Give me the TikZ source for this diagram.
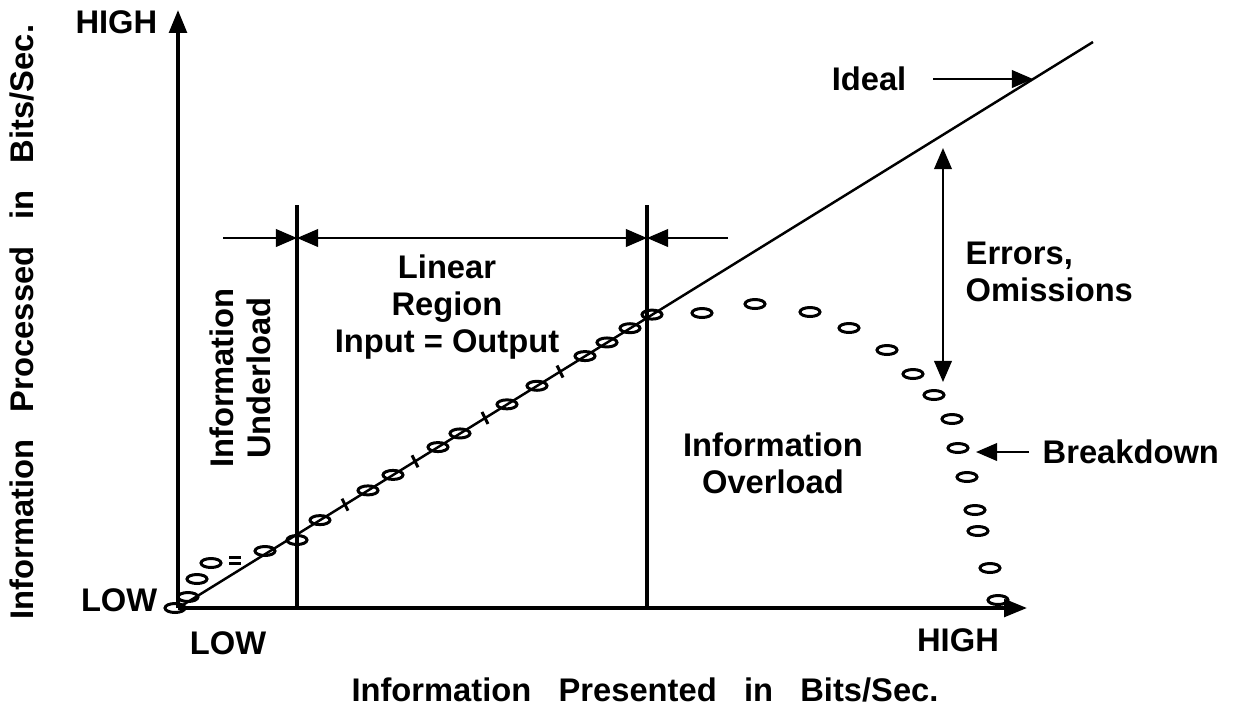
\documentclass[tikz,border=0pt]{standalone}
\usepackage{fontspec}
\setmainfont{Liberation Sans}
\newfontfamily\widesans{Liberation Sans}[WordSpace=3]
\usetikzlibrary{arrows.meta}

\tikzset{
  lbl/.style={font=\bfseries\fontsize{9.3}{10.5}\selectfont, inner sep=0pt, align=center},
  axis/.style={line width=1pt, -{Triangle[length=6.5pt,width=5pt]}},
  divider/.style={line width=1pt},
  ideal/.style={line width=0.7pt},
  pointer/.style={line width=0.6pt, -{Triangle[length=6pt,width=5pt]}},
  both/.style={line width=0.6pt, {Triangle[length=6pt,width=5pt]}-{Triangle[length=6pt,width=5pt]}},
  sample/.style={line width=0.85pt},
}

\begin{document}
\begin{tikzpicture}[x=0.01cm,y=-0.01cm]
  \useasboundingbox (0,0) rectangle (1250,714);

  % axes
  \coordinate (o) at (178,608);
  \coordinate (ytip) at (178,10);
  \coordinate (xtip) at (1027,608);
  \draw[axis] (o) -- (ytip);
  \draw[axis] (o) -- (xtip);

  % ideal line
  \coordinate (idealend) at (1093,42);
  \draw[ideal] (o) -- (idealend);

  % region dividers
  \coordinate (a0) at (297,608);
  \coordinate (a1) at (297,205);
  \coordinate (b0) at (647,608);
  \coordinate (b1) at (647,205);
  \draw[divider] (a0) -- (a1);
  \draw[divider] (b0) -- (b1);

  % dimension arrows
  \coordinate (lstart) at (223,238);
  \coordinate (la) at (297,238);
  \coordinate (lb) at (647,238);
  \coordinate (rstart) at (728,238);
  \draw[pointer] (lstart) -- (la);
  \draw[both] (la) -- (lb);
  \draw[pointer] (rstart) -- (lb);

  % measured points
  \foreach \x/\y in {175/608, 188/597, 197/579, 211/563, 265/551, 297/540,
                     702/313, 755/304, 810/312, 849/328, 887/350, 913/374,
                     934/395, 952/419, 958/448, 967/477, 975/510, 978/531,
                     990/568, 998/600}
    \draw[sample] (\x,\y) ellipse [x radius=10, y radius=4.5];
  \foreach \x in {320, 368, 393, 438, 460, 507, 537, 585, 607, 630, 652}
    \draw[sample] (\x,{608-0.619*(\x-178)}) ellipse [x radius=10, y radius=4.5];
  \foreach \x in {345, 415, 485, 560}
    \draw[sample] (\x-3,{608-0.619*(\x-178)-6}) -- (\x+3,{608-0.619*(\x-178)+6});
  \draw[sample] (229,557) -- (241,557);
  \draw[sample] (229,563) -- (241,563);

  % labels
  \node[lbl, anchor=east] (yhigh) at (158,22) {HIGH};
  \node[lbl, anchor=east] (ylow) at (158,600) {LOW};
  \node[lbl] (xlow) at (228,643) {LOW};
  \node[lbl] (xhigh) at (958,640) {HIGH};
  \node[lbl] (xtitle) at (645,690) {\widesans Information Presented in Bits/Sec.};
  \node[lbl, rotate=90] (ytitle) at (22,322) {\widesans Information Processed in Bits/Sec.};
  \node[lbl, rotate=90] (under) at (240,378) {Information\\Underload};
  \node[lbl] (linear) at (447,307) {Linear\\Region\\Input = Output};
  \node[lbl, align=left, anchor=north west] (errors) at (965,241) {Errors,\\Omissions};
  \node[lbl] (over) at (773,463) {Information\\Overload};
  \node[lbl, anchor=east] (ideal) at (907,79) {Ideal};
  \node[lbl, anchor=west] (brk) at (1042,452) {Breakdown};

  % pointers to the curves
  \coordinate (idealfrom) at (933,79);
  \coordinate (idealhit) at (1033,79);
  \draw[pointer] (idealfrom) -- (idealhit);
  \coordinate (errtop) at (943,148);
  \coordinate (errbot) at (943,382);
  \draw[both] (errtop) -- (errbot);
  \coordinate (brkfrom) at (1029,452);
  \coordinate (brkto) at (976,452);
  \draw[pointer] (brkfrom) -- (brkto);
\end{tikzpicture}
\end{document}
